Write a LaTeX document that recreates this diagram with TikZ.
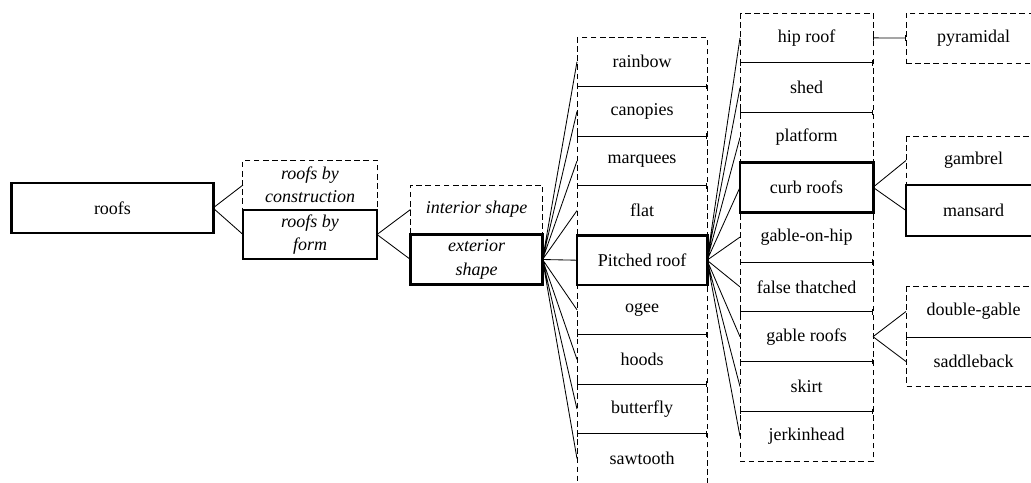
\documentclass[tikz,border=0pt]{standalone}
\usepackage{fontspec}
\setmainfont{Liberation Serif}
\usetikzlibrary{arrows.meta}

\begin{document}
\begin{tikzpicture}[
        x=0.025cm, y=-0.025cm,
        font=\fontsize{12.8}{16.5}\selectfont,
        emph/.style={font=\fontsize{12.8}{16.5}\selectfont\itshape},
        item/.style={
            rectangle, inner sep=0pt, outer sep=0pt,
            minimum width=3.25cm, minimum height=1.24cm,
            align=center
        },
        itemb/.style={item, minimum width=3.325cm, minimum height=1.245cm},
        itemc/.style={item, minimum width=3.375cm},
        boldbox/.style={draw=black, line width=2.1pt, fill=white},
        dashbox/.style={draw=black, line width=0.7pt, dash pattern=on 4pt off 2.5pt},
        sep/.style={{Bar[width=4pt]}-{Bar[width=4pt]}, line width=0.6pt},
        link/.style={line width=0.6pt}
    ]

    \useasboundingbox (0,0) rectangle (1031,482);
    \clip (0,0) rectangle (1031,482);

    % Root and first split
    \node[item, boldbox, minimum width=5.025cm, minimum height=1.25cm]
        (roofs) at (112.5, 208) {roofs};
    \node[item, dashbox, emph, minimum width=3.35cm, minimum height=1.25cm]
        (construction) at (310, 185) {roofs by\\construction};
    \node[item, boldbox, emph, minimum width=3.35cm, minimum height=1.225cm]
        (form) at (310, 234.5) {roofs by\\form};

    % Shape split
    \node[item, dashbox, emph, minimum width=3.3cm, minimum height=1.225cm]
        (interior) at (476.5, 209.5) {interior shape};
    \node[item, boldbox, emph, minimum width=3.3cm, minimum height=1.25cm]
        (exterior) at (476.5, 259.5) {exterior\\shape};

    % Exterior shapes column
    \node[item] (rainbow)   at (642, 61.8)  {rainbow};
    \node[item] (canopies)  at (642, 111.4) {canopies};
    \node[item] (marquees)  at (642, 161.0) {marquees};
    \node[item] (flat)      at (642, 210.6) {flat};
    \node[item] (ogee)      at (642, 309.8) {ogee};
    \node[item] (hoods)     at (642, 359.4) {hoods};
    \node[item] (butterfly) at (642, 409.0) {butterfly};
    \node[item] (sawtooth)  at (642, 458.6) {sawtooth};
    \draw[dashbox] (rainbow.north west) rectangle (sawtooth.south east);
    \draw[sep] (rainbow.south west) -- (rainbow.south east);
    \draw[sep] (canopies.south west) -- (canopies.south east);
    \draw[sep] (marquees.south west) -- (marquees.south east);
    \draw[sep] (ogee.south west) -- (ogee.south east);
    \draw[sep] (hoods.south west) -- (hoods.south east);
    \draw[sep] (butterfly.south west) -- (butterfly.south east);
    \node[item, boldbox] (pitched) at (642, 260.2) {Pitched roof};

    % Pitched roof column
    \node[itemb] (hip)      at (806.5, 37.9)  {hip roof};
    \node[itemb] (shed)     at (806.5, 87.7)  {shed};
    \node[itemb] (platform) at (806.5, 137.5) {platform};
    \node[itemb] (gableonhip) at (806.5, 237.1) {gable-on-hip};
    \node[itemb] (thatched) at (806.5, 286.9) {false thatched};
    \node[itemb] (gable)    at (806.5, 336.7) {gable roofs};
    \node[itemb] (skirt)    at (806.5, 386.5) {skirt};
    \node[itemb] (jerkin)   at (806.5, 436.3) {jerkinhead};
    \draw[dashbox] (hip.north west) rectangle (jerkin.south east);
    \draw[sep] (hip.south west) -- (hip.south east);
    \draw[sep] (shed.south west) -- (shed.south east);
    \draw[sep] (gableonhip.south west) -- (gableonhip.south east);
    \draw[sep] (thatched.south west) -- (thatched.south east);
    \draw[sep] (gable.south west) -- (gable.south east);
    \draw[sep] (skirt.south west) -- (skirt.south east);
    \node[itemb, boldbox] (curb) at (806.5, 187.3) {curb roofs};

    % Last column
    \node[itemc, dashbox, minimum height=1.25cm] (pyramidal) at (973.5, 38) {pyramidal};
    \node[itemc, minimum height=1.225cm] (gambrel) at (973.5, 160.5) {gambrel};
    \node[itemc, minimum height=1.275cm] (mansardtmp) at (973.5, 210.5) {};
    \draw[dashbox] (gambrel.north west) rectangle (mansardtmp.south east);
    \node[itemc, boldbox, minimum height=1.275cm] (mansard) at (973.5, 210.5) {mansard};
    \node[itemc, minimum height=1.275cm] (double) at (973.5, 311.5) {double-gable};
    \node[itemc, minimum height=1.225cm] (saddle) at (973.5, 361.5) {saddleback};
    \draw[dashbox] (double.north west) rectangle (saddle.south east);
    \draw[sep] (double.south west) -- (double.south east);

    % Connectors
    \draw[link] (roofs.east) -- (construction.west)
                (roofs.east) -- (form.west);
    \draw[link] (form.east) -- (interior.west)
                (form.east) -- (exterior.west);
    \draw[link] (exterior.east) -- (rainbow.west)
                (exterior.east) -- (canopies.west)
                (exterior.east) -- (marquees.west)
                (exterior.east) -- (flat.west)
                (exterior.east) -- (pitched.west)
                (exterior.east) -- (ogee.west)
                (exterior.east) -- (hoods.west)
                (exterior.east) -- (butterfly.west)
                (exterior.east) -- (sawtooth.west);
    \draw[link] (pitched.east) -- (hip.west)
                (pitched.east) -- (shed.west)
                (pitched.east) -- (platform.west)
                (pitched.east) -- (curb.west)
                (pitched.east) -- (gableonhip.west)
                (pitched.east) -- (thatched.west)
                (pitched.east) -- (gable.west)
                (pitched.east) -- (skirt.west)
                (pitched.east) -- (jerkin.west);
    \draw[sep] (hip.east) -- (pyramidal.west);
    \draw[link] (curb.east) -- (gambrel.west)
                (curb.east) -- (mansard.west);
    \draw[link] (gable.east) -- (double.west)
                (gable.east) -- (saddle.west);

\end{tikzpicture}
\end{document}
